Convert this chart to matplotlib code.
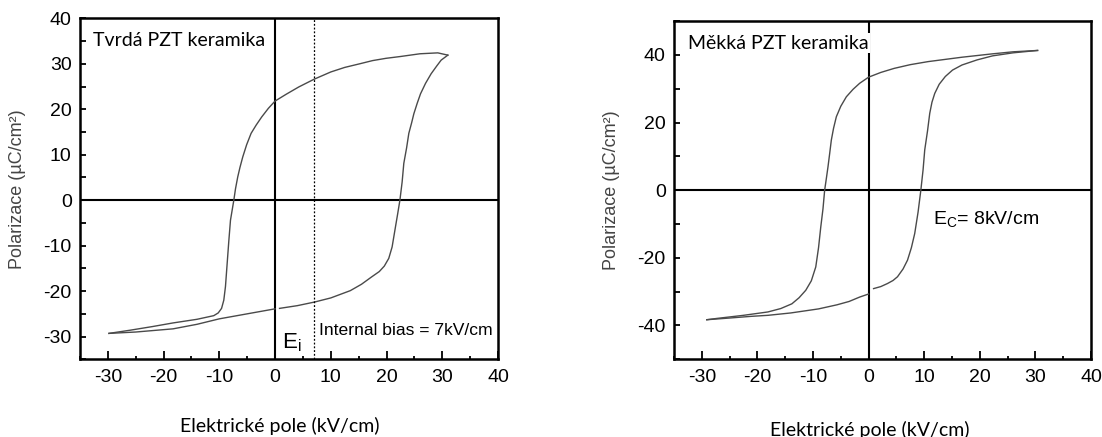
import numpy as np
import matplotlib.pyplot as plt
from matplotlib.ticker import MultipleLocator

plt.rcParams['font.family'] = ['Liberation Sans', 'DejaVu Sans']
plt.rcParams['font.size'] = 13
plt.rcParams['axes.unicode_minus'] = False
plt.rcParams['mathtext.fontset'] = 'custom'
plt.rcParams['mathtext.rm'] = 'Liberation Sans'
plt.rcParams['mathtext.it'] = 'Liberation Sans'

# Hard PZT loop
hard_down_e = [31.0, 29.2, 26.0, 22.5, 19.9, 17.5, 15.2, 12.5, 10.0, 7.0, 4.25, 2.0, 0.0, -1.2,
               -2.4, -3.4, -4.3, -5.1, -5.8, -6.3, -6.7, -7.1, -7.4, -7.7, -8.0, -8.3, -8.6,
               -8.9, -9.2, -9.6, -10.2, -11.0, -14.0, -18.3, -22.0, -26.0, -29.8]
hard_down_p = [31.9, 32.4, 32.2, 31.6, 31.2, 30.7, 30.0, 29.2, 28.2, 26.6, 24.9, 23.3, 21.8, 20.2,
               18.3, 16.5, 14.7, 12.2, 9.5, 7.2, 5.1, 2.5, 0.0, -2.2, -4.4, -9.0, -14.0,
               -19.0, -22.0, -23.8, -24.8, -25.4, -26.2, -27.0, -27.8, -28.6, -29.3]
hard_up1_e = [-29.8, -25.0, -18.3, -14.0, -10.0, -5.0, 0.0]
hard_up1_p = [-29.3, -29.0, -28.3, -27.3, -26.1, -25.0, -23.9]
hard_up2_e = [0.8, 4.0, 7.1, 10.0, 13.5, 15.5, 17.3, 18.7, 19.6, 20.4, 21.0, 21.6, 22.0, 22.4,
              22.8, 23.1, 23.6, 24.0, 24.5, 24.9, 25.5, 26.1, 27.0, 28.0, 29.0, 29.8, 31.0]
hard_up2_p = [-23.8, -23.2, -22.4, -21.5, -19.9, -18.5, -16.9, -15.7, -14.5, -12.8, -10.3, -5.9,
              -3.0, 0.0, 4.0, 8.1, 11.5, 14.7, 17.0, 19.0, 21.3, 23.4, 25.7, 27.8, 29.5, 30.8, 31.9]

# Soft PZT loop
soft_down_e = [30.4, 26.0, 22.3, 16.8, 10.7, 7.5, 4.6, 2.2, 0.0, -1.6, -2.8, -4.0, -5.0, -5.8,
               -6.3, -6.7, -7.0, -7.3, -7.6, -7.9, -8.2, -8.6, -9.0, -9.5, -10.3, -11.3, -12.5,
               -13.8, -15.8, -18.1, -22.5, -27.2, -29.1]
soft_down_p = [41.3, 40.9, 40.3, 39.3, 38.0, 37.1, 36.0, 34.8, 33.4, 31.6, 29.8, 27.6, 24.8, 21.7,
               18.3, 14.8, 10.8, 6.9, 3.4, 0.0, -5.5, -10.9, -17.0, -22.7, -26.8, -29.6, -31.8,
               -33.6, -35.0, -36.0, -37.0, -37.9, -38.3]
soft_up1_e = [-29.1, -25.0, -21.1, -18.1, -14.0, -9.0, -5.7, -3.5, -1.6, 0.0]
soft_up1_p = [-38.3, -37.8, -37.3, -37.0, -36.3, -35.1, -33.9, -32.9, -31.6, -30.7]
soft_up2_e = [0.9, 2.2, 3.4, 4.4, 5.2, 6.2, 7.0, 7.7, 8.3, 8.9, 9.4, 9.8, 10.1, 10.6, 11.0,
              11.4, 11.9, 12.7, 13.8, 15.1, 16.8, 19.5, 22.3, 26.0, 30.4]
soft_up2_p = [-29.1, -28.5, -27.6, -26.7, -25.6, -23.3, -20.7, -17.0, -12.8, -6.5, 0.0, 6.0,
              11.9, 17.5, 22.7, 26.0, 28.6, 31.3, 33.6, 35.5, 37.0, 38.5, 39.7, 40.6, 41.3]

x_ticks = [-30, -20, -10, 0, 10, 20, 30, 40]

fig = plt.figure(figsize=(11.02, 4.37), dpi=100)
ax1 = fig.add_axes([0.0726, 0.1778, 0.3793, 0.7803])
ax2 = fig.add_axes([0.6116, 0.1778, 0.3784, 0.7741])

curve_col = '#4a4a4a'


def style_axes(ax, ymaj, ymin):
    ax.set_xlim(-35, 40)
    ax.set_xticks(x_ticks)
    ax.xaxis.set_minor_locator(MultipleLocator(5))
    ax.yaxis.set_major_locator(MultipleLocator(ymaj))
    ax.yaxis.set_minor_locator(MultipleLocator(ymin))
    for s in ax.spines.values():
        s.set_linewidth(1.8)
    ax.tick_params(which='both', direction='in', top=False, right=False, width=1.3,
                   labelsize=14)
    ax.tick_params(axis='x', which='major', length=6, pad=7)
    ax.tick_params(axis='x', which='minor', length=2.5)
    ax.tick_params(axis='y', which='both', length=4.5, pad=6)
    ax.axhline(0, color='black', lw=1.5, zorder=1)
    ax.axvline(0, color='black', lw=1.5, zorder=1)
    ax.set_ylabel('Polarizace (µC/cm²)', fontsize=13, color='#444444')


# left: hard PZT
ax1.set_ylim(-35, 40)
style_axes(ax1, 10, 5)
ax1.yaxis.set_label_coords(-0.13, 0.5)
ax1.plot(hard_down_e, hard_down_p, color=curve_col, lw=1.0)
ax1.plot(hard_up1_e, hard_up1_p, color=curve_col, lw=1.0)
ax1.plot(hard_up2_e, hard_up2_p, color=curve_col, lw=1.0)
ax1.axvline(7, color='black', lw=0.9, ls=(0, (1.5, 1.5)))
ax1.text(0.031, 0.935, 'Tvrdá PZT keramika', transform=ax1.transAxes, fontfamily='Lato',
         fontsize=14, va='center', ha='left')
ax1.text(3.0, -31.3, r'E$_\mathrm{i}$', fontsize=16, va='center', ha='center')
ax1.text(7.8, -28.7, 'Internal bias = 7kV/cm', fontsize=12.6, va='center', ha='left')

# right: soft PZT
ax2.set_ylim(-50, 50)
style_axes(ax2, 20, 10)
ax2.yaxis.set_label_coords(-0.13, 0.5)
ax2.plot(soft_down_e, soft_down_p, color=curve_col, lw=1.0)
ax2.plot(soft_up1_e, soft_up1_p, color=curve_col, lw=1.0)
ax2.plot(soft_up2_e, soft_up2_p, color=curve_col, lw=1.0)
ax2.text(0.033, 0.935, 'Měkká PZT keramika', transform=ax2.transAxes, fontfamily='Lato',
         fontsize=14, va='center', ha='left', zorder=5,
         bbox=dict(facecolor='white', edgecolor='none', pad=1))
ax2.text(11.5, -8.5, r'E$_\mathrm{C}$= 8kV/cm', fontsize=14, va='center', ha='left')

fig.text(280 / 1102, 1 - 426 / 437, 'Elektrické pole (kV/cm)', fontfamily='Lato',
         fontsize=14, ha='center', va='center')
fig.text(870 / 1102, 1 - 430 / 437, 'Elektrické pole (kV/cm)', fontfamily='Lato',
         fontsize=14, ha='center', va='center')

fig.savefig('out.png', dpi=100)
